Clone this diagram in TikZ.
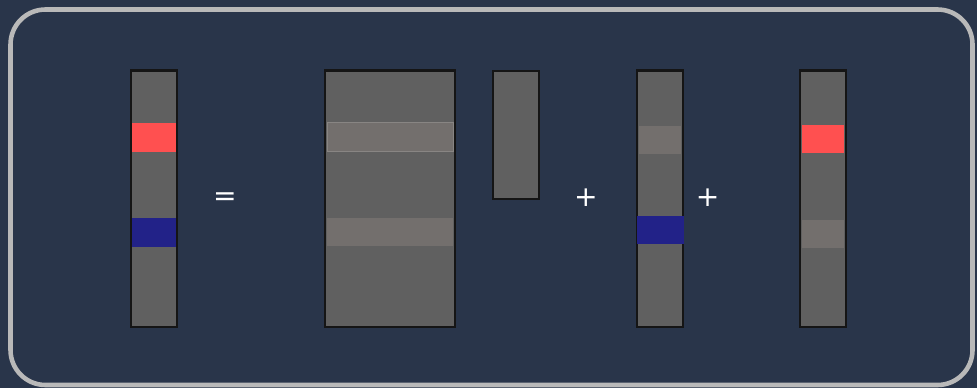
\documentclass[tikz,border=0pt]{standalone}
\usepackage{fontspec}
\setsansfont{DejaVu Sans}
\definecolor{bgdark}{HTML}{29354A}
\definecolor{frameline}{HTML}{B9B9B9}
\definecolor{bargray}{HTML}{606060}
\definecolor{barline}{HTML}{151515}
\definecolor{hotred}{HTML}{FF5050}
\definecolor{deepblue}{HTML}{222288}
\definecolor{faded}{HTML}{736F6D}
\begin{document}
\begin{tikzpicture}[x=0.01cm, y=-0.01cm,
  vec/.style={draw=barline, fill=bargray, line width=0.65pt, inner sep=0pt},
  band/.style={inner sep=0pt, minimum height=0.29cm},
  op/.style={text=white, font=\sffamily\fontsize{8}{9}\selectfont}]
\useasboundingbox (0,0) rectangle (977,388);
\fill[bgdark] (0,0) rectangle (977,388);
\draw[frameline, line width=1.3pt, rounded corners=0.35cm] (10.5,9.5) rectangle (972.5,385);
% left-hand side
\node[vec, minimum width=0.46cm, minimum height=2.56cm] (y) at (154,198.7) {};
\node[band, fill=hotred, minimum width=0.43cm] (yr) at (154,137.2) {};
\node[band, fill=deepblue, minimum width=0.43cm] (yb) at (154,232.4) {};
\node[op] (eq) at (225,199) {=};
% matrix times vector
\node[vec, minimum width=1.30cm, minimum height=2.56cm] (A) at (390.3,198.7) {};
\node[band, fill=faded, draw=faded!85!white, line width=0.4pt, minimum width=1.26cm] (Ar) at (390.3,137.2) {};
\node[band, fill=faded, minimum width=1.26cm, minimum height=0.28cm] (Ab) at (390.3,231.7) {};
\node[vec, minimum width=0.46cm, minimum height=1.285cm] (x) at (516.2,135) {};
\node[op] (plus1) at (586,198) {+};
% second term
\node[vec, minimum width=0.46cm, minimum height=2.56cm] (u) at (660.2,198.7) {};
\node[band, fill=faded, minimum width=0.42cm, minimum height=0.28cm] (ur) at (660.2,139.9) {};
\node[band, fill=deepblue, minimum width=0.47cm, minimum height=0.28cm] (ub) at (660.2,229.9) {};
\node[op] (plus2) at (707.7,198) {+};
% third term
\node[vec, minimum width=0.46cm, minimum height=2.56cm] (v) at (823,198.7) {};
\node[band, fill=hotred, minimum width=0.42cm, minimum height=0.28cm] (vr) at (823,139) {};
\node[band, fill=faded, minimum width=0.42cm, minimum height=0.28cm] (vb) at (823,234) {};
\end{tikzpicture}
\end{document}
